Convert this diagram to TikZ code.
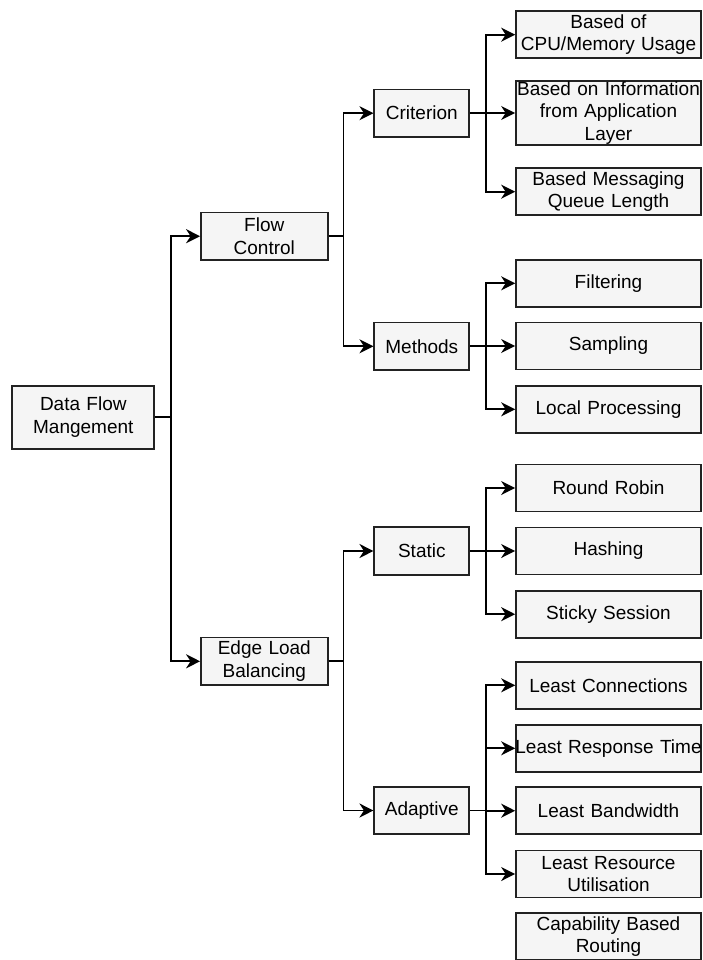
\documentclass[tikz,border=0pt]{standalone}
\usepackage{fontspec}
\setmainfont{Liberation Sans}
\usetikzlibrary{arrows.meta}
\definecolor{boxfill}{HTML}{F5F5F5}
\definecolor{boxline}{HTML}{222222}
\begin{document}
\begin{tikzpicture}[x=1pt,y=-1pt,
  box/.style={draw=boxline, fill=boxfill, line width=1.7pt, inner sep=0pt,
    align=center, text=black, font=\fontsize{19}{22.6}\selectfont},
  rootbox/.style={box, minimum width=142pt, text width=142pt, minimum height=63pt},
  midbox/.style={box, minimum width=126.7pt, text width=126.7pt, minimum height=47.5pt},
  catbox/.style={box, minimum width=95pt, text width=95pt, minimum height=47.5pt},
  leafbox/.style={box, minimum width=185pt, text width=185pt, minimum height=47pt},
  tallleaf/.style={leafbox, minimum height=64pt},
  link/.style={draw=black, line width=1.8pt,
    -{Stealth[length=14pt,width=14pt,inset=4.5pt]}}
]
\useasboundingbox (0,0) rectangle (702,960);

% root and first level
\node[rootbox] (dfm) at (83.3,417.3) {Data Flow\\Mangement};
\node[midbox] (fc) at (264.3,236.2) {Flow\\Control};
\node[midbox] (elb) at (264.3,661.3) {Edge Load\\Balancing};

% second level
\node[catbox] (crit) at (421.8,113.2) {Criterion};
\node[catbox] (meth) at (421.8,346.3) {Methods};
\node[catbox] (stat) at (421.8,551) {Static};
\node[catbox] (adap) at (421.8,810.5) {Adaptive};

% leaves: criterion
\node[leafbox] (cpu) at (608.5,34.7) {Based of\\CPU/Memory Usage};
\node[tallleaf] (app) at (608.5,113) {\makebox[\linewidth]{Based on Information}\\from Application\\Layer};
\node[leafbox] (queue) at (608.5,191.7) {Based Messaging\\Queue Length};

% leaves: methods
\node[leafbox] (filt) at (608.5,283.3) {Filtering};
\node[leafbox] (samp) at (608.5,346) {Sampling};
\node[leafbox] (local) at (608.5,409.3) {Local Processing};

% leaves: static
\node[leafbox] (rr) at (608.5,488) {Round Robin};
\node[leafbox] (hash) at (608.5,551) {Hashing};
\node[leafbox] (sticky) at (608.5,614.2) {Sticky Session};

% leaves: adaptive
\node[leafbox] (lconn) at (608.5,685.3) {Least Connections};
\node[leafbox] (lrt) at (608.5,748.3) {\makebox[\linewidth]{Least Response Time}};
\node[leafbox] (lbw) at (608.5,810.7) {Least Bandwidth};
\node[leafbox] (lres) at (608.5,874) {Least Resource\\Utilisation};
\node[leafbox] (cap) at (608.5,936.7) {Capability Based\\Routing};

% connectors
\foreach \t in {fc,elb} \draw[link] (dfm.east) -- ++(15.7,0) |- (\t.west);
\foreach \t in {crit,meth} \draw[link] (fc.east) -- ++(15,0) |- (\t.west);
\foreach \t in {stat,adap} \draw[link] (elb.east) -- ++(15,0) |- (\t.west);
\foreach \t in {cpu,app,queue} \draw[link] (crit.east) -- ++(16.2,0) |- (\t.west);
\foreach \t in {filt,samp,local} \draw[link] (meth.east) -- ++(16.2,0) |- (\t.west);
\foreach \t in {rr,hash,sticky} \draw[link] (stat.east) -- ++(16.2,0) |- (\t.west);
\foreach \t in {lconn,lrt,lbw,lres} \draw[link] (adap.east) -- ++(16.2,0) |- (\t.west);
\end{tikzpicture}
\end{document}
